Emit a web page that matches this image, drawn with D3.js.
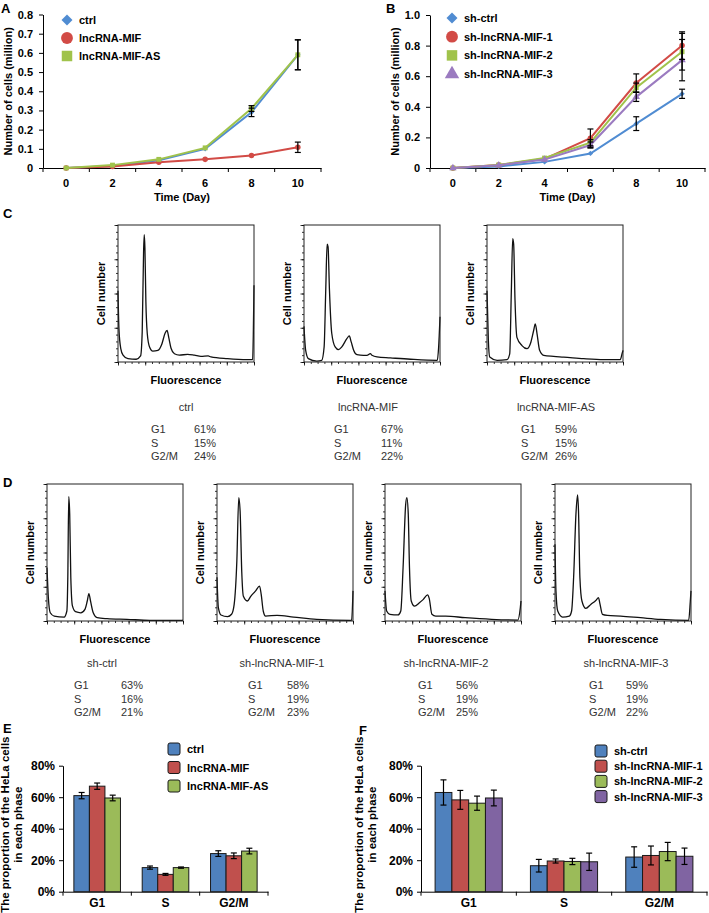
<!doctype html>
<html>
<head>
<meta charset="utf-8">
<title>lncRNA-MIF growth and cell cycle</title>
<script src="https://cdnjs.cloudflare.com/ajax/libs/d3/7.8.5/d3.min.js"></script>
<style>
  html, body { margin: 0; padding: 0; background: #fff; }
  text { font-family: "Liberation Sans", Arial, sans-serif; }
</style>
</head>
<body>
<div id="figure"></div>
<script>
// ---- growth curves (A, B) ----
const days = [0, 2, 4, 6, 8, 10];

const seriesA = ['ctrl', 'lncRNA-MIF', 'lncRNA-MIF-AS'];
const cellsA_ctrl = [0, 0.010, 0.040, 0.100, 0.290, 0.590];
const cellsA_mif  = [0, 0.008, 0.030, 0.045, 0.065, 0.108];
const cellsA_as   = [0, 0.015, 0.045, 0.105, 0.310, 0.590];
const errA_ctrl = [0, 0.003, 0.005, 0.010, 0.022, 0.078];
const errA_mif  = [0, 0.002, 0.004, 0.005, 0.006, 0.027];
const errA_as   = [0, 0.003, 0.006, 0.008, 0.015, 0.078];

const seriesB = ['sh-ctrl', 'sh-lncRNA-MIF-1', 'sh-lncRNA-MIF-2', 'sh-lncRNA-MIF-3'];
const cellsB_ctrl = [0, 0.010, 0.040, 0.095, 0.290, 0.485];
const cellsB_1    = [0, 0.020, 0.060, 0.195, 0.555, 0.800];
const cellsB_2    = [0, 0.020, 0.065, 0.165, 0.525, 0.760];
const cellsB_3    = [0, 0.018, 0.055, 0.150, 0.465, 0.705];
const errB_ctrl = [0, 0.003, 0.006, 0.010, 0.045, 0.030];
const errB_1    = [0, 0.004, 0.008, 0.060, 0.060, 0.090];
const errB_2    = [0, 0.004, 0.008, 0.020, 0.030, 0.120];
const errB_3    = [0, 0.004, 0.008, 0.020, 0.030, 0.135];

// ---- flow cytometry histograms (channel %, count % of full scale) ----
const histC_ctrl = [[0,52],[0.7,24],[2,10],[3.7,5],[7.3,2.4],[13.4,2],[16.6,4.4],[17.8,22],[18.8,80],[19.3,93],[19.8,83],[20.5,44],[21.5,21],[23.2,11],[25.6,8],[29.3,8.5],[32.2,13],[34.6,21],[36.1,23],[37.3,18],[39,10],[41.5,6],[45.1,5],[51.2,5.6],[56.1,5],[61,4.1],[66.3,4.4],[68.3,3.7],[80.5,2.4],[95.1,1.7],[99,1.7],[99.5,20],[100,56]];
const histC_mif = [[0,26],[1.2,8.6],[3.2,2.5],[9.4,0.7],[13,1.2],[14.8,11],[16,53],[17,86],[17.7,84],[18.7,53],[20.4,21],[22.9,11],[25.4,9],[27.8,11],[31.5,17],[33.3,19],[34.7,14.7],[36.5,8.6],[38.9,5.4],[43.8,4.9],[46.3,4.9],[48.8,6.1],[50,4.9],[53.7,3.7],[63.5,3],[78.3,2],[98,1.2],[99,11],[100,33]];
const histC_as = [[0,52],[1,15.7],[2,3.6],[7.4,1.2],[14.7,1.7],[16.7,6],[17.9,52],[18.9,90],[19.6,86],[20.6,45],[22,18],[25.7,12],[29.4,9.7],[31.9,13.3],[34.3,23],[35.5,27.8],[36.8,20.6],[38.7,8.5],[41.7,4.8],[49,4.1],[56.4,3.6],[71,2.4],[85.8,1.7],[98,1.7],[99.3,6],[100,8.5]];
const histD_ctrl = [[0,39],[1,17],[2.4,6],[5.3,3.6],[12.6,2.9],[14.6,7.3],[15.3,32],[16,91],[16.7,78],[17.5,32],[18.7,11],[21,6.8],[24.8,6],[27.9,8.5],[29.6,14.6],[30.8,20],[32,14.6],[34,6],[36.9,2.4],[44.2,1.7],[58.7,1.2],[75.7,0.5],[98.8,0.5],[100,0.7]];
const histD_1 = [[0,32],[1,9.7],[2.9,4.4],[7.8,3.2],[10.7,4.9],[12.6,12],[14.6,44],[16,90],[17,80],[18.2,36],[19.4,18],[22.3,14.6],[24.8,18],[28.4,22],[31.3,25.5],[32.5,19.4],[34,7.3],[35.7,3.6],[44.2,4.1],[56.3,2.9],[73.3,1.2],[97.6,0.5],[99,0.7],[100,22]];
const histD_2 = [[0,22],[1.2,7.3],[3.6,4.9],[9.6,4.4],[11.6,7.3],[13.3,39],[15.2,85],[16.1,90],[17.1,78],[18,39],[19.3,14.6],[21.7,10.9],[25.3,13.3],[28.2,15.8],[31.3,19],[32.5,16.5],[34.5,4.9],[37.3,3.6],[44.6,3.6],[59,2.4],[78.3,1.2],[97.6,0.7],[99.5,9.7],[100,14.6]];
const histD_3 = [[0,56],[0.7,22],[2,7.3],[5.6,2.9],[10.5,3.6],[12.2,7.3],[13.7,32],[15.4,78],[16.6,92],[17.3,80],[18.3,32],[19.8,14.6],[22.7,9.2],[26.3,12.1],[30,15],[32,17],[32.9,13.3],[34.9,4.9],[38.5,4.1],[48.3,3.6],[62.9,2.4],[77.6,1.2],[98.3,0.5],[99.5,14.6],[100,22]];

const phases = ['G1', 'S', 'G2/M'];
const samplesC = ['ctrl', 'lncRNA-MIF', 'lncRNA-MIF-AS'];
const pctC = [[61, 15, 24], [67, 11, 22], [59, 15, 26]];
const samplesD = ['sh-ctrl', 'sh-lncRNA-MIF-1', 'sh-lncRNA-MIF-2', 'sh-lncRNA-MIF-3'];
const pctD = [[63, 16, 21], [58, 19, 23], [56, 19, 25], [59, 19, 22]];

// ---- phase proportions (E, F) ----
const barsE_ctrl = [61, 15.3, 24.2], barsE_mif = [67, 11, 22.8], barsE_as = [59.5, 15.3, 25.8];
const errE_ctrl = [2, 1, 1.8], errE_mif = [2, 0.6, 1.8], errE_as = [1.8, 0.4, 1.8];
const barsF_ctrl = [63, 16.5, 22], barsF_1 = [58.3, 19.5, 23], barsF_2 = [56.2, 19.2, 25.5], barsF_3 = [59.5, 19, 22.5];
const errF_ctrl = [8, 4, 6.5], errF_1 = [6, 1.3, 6], errF_2 = [4.5, 2, 5.8], errF_3 = [5, 5.5, 5.2];

const lineColors = ['#508CD2', '#D24B46', '#A0C34B', '#9B7BC0'];
const barColors = ['#4F81BD', '#C0504D', '#9BBB59', '#8064A2'];
const symbols = [d3.symbolSquare, d3.symbolCircle, d3.symbolSquare, d3.symbolTriangle];

const svg = d3.select('#figure').append('svg')
  .attr('width', 709).attr('height', 913)
  .style('background', '#fff');

function styleAxis(sel) {
  sel.selectAll('path, line').attr('stroke', '#000').attr('stroke-width', 1);
  sel.selectAll('text').attr('fill', '#000').style('font-weight', 'bold')
    .style('font-size', '11px').style('font-family', '"Liberation Sans", Arial, sans-serif');
}

function panelLetter(t, x, y) {
  svg.append('text').attr('x', x).attr('y', y).text(t)
    .style('font-weight', 'bold').style('font-size', '13px');
}

function marker(sel, i, size) {
  sel.attr('d', d3.symbol().type(symbols[i]).size(size))
    .attr('fill', lineColors[i]);
  if (i === 0) sel.attr('transform', (d, k, n) => d3.select(n[k]).attr('transform') + ' rotate(45)');
}

function growthPanel(o) {
  const g = svg.append('g');
  const x = d3.scaleBand().domain(days).range(o.xr);
  const y = d3.scaleLinear().domain([0, o.yMax]).range(o.yr);
  const cx = d => x(d) + x.bandwidth() / 2;

  g.append('g').attr('transform', `translate(${o.xr[0]},0)`)
    .call(d3.axisLeft(y).tickValues(d3.range(0, o.yMax + 1e-9, o.yStep)).tickFormat(o.fmt)
      .tickSize(4).tickPadding(6).tickSizeOuter(0))
    .call(styleAxis);
  const xa = g.append('g').attr('transform', `translate(0,${o.yr[0]})`)
    .call(d3.axisBottom(x).tickSize(0).tickPadding(11).tickSizeOuter(0))
    .call(styleAxis);
  xa.selectAll('.bound').data(d3.range(days.length + 1)).join('line')
    .attr('x1', i => o.xr[0] + i * x.step()).attr('x2', i => o.xr[0] + i * x.step())
    .attr('y1', 0).attr('y2', 4).attr('stroke', '#000');

  g.append('text').attr('x', (o.xr[0] + o.xr[1]) / 2).attr('y', o.yr[0] + 33)
    .attr('text-anchor', 'middle').style('font-weight', 'bold').style('font-size', '11px')
    .text('Time (Day)');
  g.append('text').attr('transform', `translate(${o.titleX},${(o.yr[0] + o.yr[1]) / 2}) rotate(-90)`)
    .attr('text-anchor', 'middle').style('font-weight', 'bold').style('font-size', '11px')
    .text('Number of cells (million)');

  const line = d3.line().x((d, i) => cx(days[i])).y(d => y(d));
  o.values.forEach((vals, s) => {
    g.append('path').datum(vals).attr('d', line)
      .attr('fill', 'none').attr('stroke', lineColors[s]).attr('stroke-width', 2);
    g.selectAll(null).data(vals).join('path')
      .attr('transform', (d, i) => `translate(${cx(days[i])},${y(d)})`)
      .call(marker, s, s === 0 ? 14 : 24);
  });
  o.values.forEach((vals, s) => {
    const eb = g.append('g').attr('stroke', '#000').attr('stroke-width', 1.2);
    vals.forEach((v, i) => {
      const e = o.errs[s][i];
      if (e < 0.015) return;
      const px = cx(days[i]);
      eb.append('line').attr('x1', px).attr('x2', px).attr('y1', y(v - e)).attr('y2', y(v + e));
      eb.append('line').attr('x1', px - 3).attr('x2', px + 3).attr('y1', y(v - e)).attr('y2', y(v - e));
      eb.append('line').attr('x1', px - 3).attr('x2', px + 3).attr('y1', y(v + e)).attr('y2', y(v + e));
    });
  });

  o.names.forEach((n, s) => {
    const ly = o.legY + s * o.legStep;
    g.append('path').datum(0).attr('transform', `translate(${o.legX},${ly})`)
      .call(marker, s, s === 0 ? 60 : (s === 3 ? 90 : 110));
    g.append('text').attr('x', o.legX + 12).attr('y', ly + 4)
      .style('font-weight', 'bold').style('font-size', '11px').text(n);
  });
}

growthPanel({
  xr: [43, 321], yr: [168, 14.5], yMax: 0.8, yStep: 0.1,
  fmt: d => d === 0 ? '0' : d3.format('.1f')(d), titleX: 12,
  values: [cellsA_ctrl, cellsA_mif, cellsA_as], errs: [errA_ctrl, errA_mif, errA_as],
  names: seriesA, legX: 67, legY: 20, legStep: 18
});
growthPanel({
  xr: [430, 705], yr: [168, 15], yMax: 1.0, yStep: 0.2,
  fmt: d => d === 0 ? '0' : d3.format('.1f')(d), titleX: 399,
  values: [cellsB_ctrl, cellsB_1, cellsB_2, cellsB_3], errs: [errB_ctrl, errB_1, errB_2, errB_3],
  names: seriesB, legX: 452, legY: 18, legStep: 18.7
});
panelLetter('A', 1, 13);
panelLetter('B', 386, 13);

// ---- histograms ----
function histogram(x0, y0, data) {
  const w = 136, h = 137;
  const g = svg.append('g');
  const x = d3.scaleLinear().domain([0, 100]).range([x0, x0 + w]);
  const y = d3.scaleLinear().domain([0, 100]).range([y0 + h, y0]);
  const ax = (axis, tr) => g.append('g').attr('transform', tr).call(axis)
    .call(s => s.select('.domain').remove())
    .call(s => s.selectAll('line').attr('stroke', '#000').attr('stroke-width', 0.8));
  ax(d3.axisBottom(x).tickValues(d3.range(0, 101, 5)).tickSize(2).tickFormat(''), `translate(0,${y0 + h})`);
  ax(d3.axisBottom(x).tickValues(d3.range(0, 101, 20)).tickSize(3.5).tickFormat(''), `translate(0,${y0 + h})`);
  ax(d3.axisLeft(y).tickValues(d3.range(0, 101, 5)).tickSize(2).tickFormat(''), `translate(${x0},0)`);
  ax(d3.axisLeft(y).tickValues(d3.range(0, 101, 25)).tickSize(3.5).tickFormat(''), `translate(${x0},0)`);
  g.append('path').datum(data)
    .attr('d', d3.line().x(d => x(d[0])).y(d => y(d[1])).curve(d3.curveMonotoneX))
    .attr('fill', 'none').attr('stroke', '#111').attr('stroke-width', 1.3);
  g.append('rect').attr('x', x0).attr('y', y0).attr('width', w).attr('height', h)
    .attr('fill', 'none').attr('stroke', '#222').attr('stroke-width', 1);
  g.append('text').attr('transform', `translate(${x0 - 13},${y0 + h / 2}) rotate(-90)`)
    .attr('text-anchor', 'middle').style('font-weight', 'bold').style('font-size', '11px')
    .text('Cell number');
  g.append('text').attr('x', x0 + w / 2).attr('y', y0 + h + 22)
    .attr('text-anchor', 'middle').style('font-weight', 'bold').style('font-size', '11px')
    .text('Fluorescence');
}

function phaseBlock(name, pcts, cx, g1x, px, ty) {
  const g = svg.append('g').attr('fill', '#333').style('font-size', '11px');
  g.append('text').attr('x', cx).attr('y', ty).attr('text-anchor', 'middle').text(name);
  phases.forEach((p, i) => {
    g.append('text').attr('x', g1x).attr('y', ty + 22 + i * 13.5).text(p);
    g.append('text').attr('x', px).attr('y', ty + 22 + i * 13.5).text(pcts[i] + '%');
  });
}

const layoutC = [{ x: 118, cx: 186, g1: 151, p: 194 }, { x: 304, cx: 368, g1: 334, p: 381 }, { x: 487, cx: 556, g1: 521, p: 555 }];
[histC_ctrl, histC_mif, histC_as].forEach((hd, i) => {
  histogram(layoutC[i].x, 225, hd);
  phaseBlock(samplesC[i], pctC[i], layoutC[i].cx, layoutC[i].g1, layoutC[i].p, 411);
});
const layoutD = [{ x: 47, cx: 102, g1: 74, p: 121 }, { x: 217, cx: 282, g1: 248, p: 287 }, { x: 385, cx: 446, g1: 418, p: 456 }, { x: 555, cx: 626, g1: 589, p: 626 }];
[histD_ctrl, histD_1, histD_2, histD_3].forEach((hd, i) => {
  histogram(layoutD[i].x, 484, hd);
  phaseBlock(samplesD[i], pctD[i], layoutD[i].cx, layoutD[i].g1, layoutD[i].p, 667);
});
panelLetter('C', 3, 218);
panelLetter('D', 3, 487);

// ---- bar charts ----
function barPanel(o) {
  const g = svg.append('g');
  const x = d3.scaleBand().domain(phases).range(o.xr);
  const xs = d3.scaleBand().domain(d3.range(o.values.length)).range([0, x.bandwidth()])
    .paddingOuter(o.outer);
  const y = d3.scaleLinear().domain([0, 80]).range([891.7, 765.7]);

  g.append('g').attr('transform', `translate(${o.xr[0]},0)`)
    .call(d3.axisLeft(y).tickValues([0, 20, 40, 60, 80]).tickFormat(d => d + '%')
      .tickSize(4).tickPadding(4).tickSizeOuter(0))
    .call(styleAxis).call(s => s.selectAll('text').style('font-size', '12px'));
  const xa = g.append('g').attr('transform', `translate(0,${y(0)})`)
    .call(d3.axisBottom(x).tickSize(0).tickPadding(7).tickSizeOuter(0))
    .call(styleAxis).call(s => s.selectAll('text').style('font-size', '12px'));
  xa.selectAll('.bound').data(d3.range(phases.length + 1)).join('line')
    .attr('x1', i => o.xr[0] + i * x.step()).attr('x2', i => o.xr[0] + i * x.step())
    .attr('y1', 0).attr('y2', 4).attr('stroke', '#000');

  o.values.forEach((vals, s) => {
    const gs = g.append('g');
    gs.selectAll('rect').data(vals).join('rect')
      .attr('x', (d, i) => x(phases[i]) + xs(s)).attr('width', xs.bandwidth())
      .attr('y', d => y(d)).attr('height', d => y(0) - y(d))
      .attr('fill', barColors[s]).attr('stroke', '#1a1a1a').attr('stroke-width', 1);
    vals.forEach((v, i) => {
      const e = o.errs[s][i], px = x(phases[i]) + xs(s) + xs.bandwidth() / 2;
      const eb = gs.append('g').attr('stroke', '#000').attr('stroke-width', 1.2);
      eb.append('line').attr('x1', px).attr('x2', px).attr('y1', y(v - e)).attr('y2', y(v + e));
      [v - e, v + e].forEach(t => eb.append('line').attr('x1', px - 3).attr('x2', px + 3)
        .attr('y1', y(t)).attr('y2', y(t)));
    });
  });

  const tl = svg.append('g').attr('transform', `translate(${o.titleX},${(y(0) + y(80)) / 2 - 4}) rotate(-90)`)
    .style('font-weight', 'bold').style('font-size', '11.5px').attr('text-anchor', 'middle');
  tl.append('text').attr('y', 0).text('The proportion of the HeLa cells');
  tl.append('text').attr('y', 13).text('in each phase');

  o.names.forEach((n, s) => {
    const ly = o.legY + s * o.legStep;
    g.append('rect').attr('x', o.legX).attr('y', ly - 6).attr('width', 12).attr('height', 12)
      .attr('rx', 2).attr('fill', barColors[s]).attr('stroke', '#1a1a1a');
    g.append('text').attr('x', o.legX + 19).attr('y', ly + 4)
      .style('font-weight', 'bold').style('font-size', '11px').text(n);
  });
}

barPanel({
  xr: [63, 268], outer: 0.7, titleX: 9,
  values: [barsE_ctrl, barsE_mif, barsE_as], errs: [errE_ctrl, errE_mif, errE_as],
  names: seriesA, legX: 168, legY: 749, legStep: 18.5
});
barPanel({
  xr: [421, 707], outer: 0.84, titleX: 363,
  values: [barsF_ctrl, barsF_1, barsF_2, barsF_3], errs: [errF_ctrl, errF_1, errF_2, errF_3],
  names: seriesB, legX: 595, legY: 751, legStep: 15.2
});
panelLetter('E', 3, 733);
panelLetter('F', 359, 735);
</script>
</body>
</html>
